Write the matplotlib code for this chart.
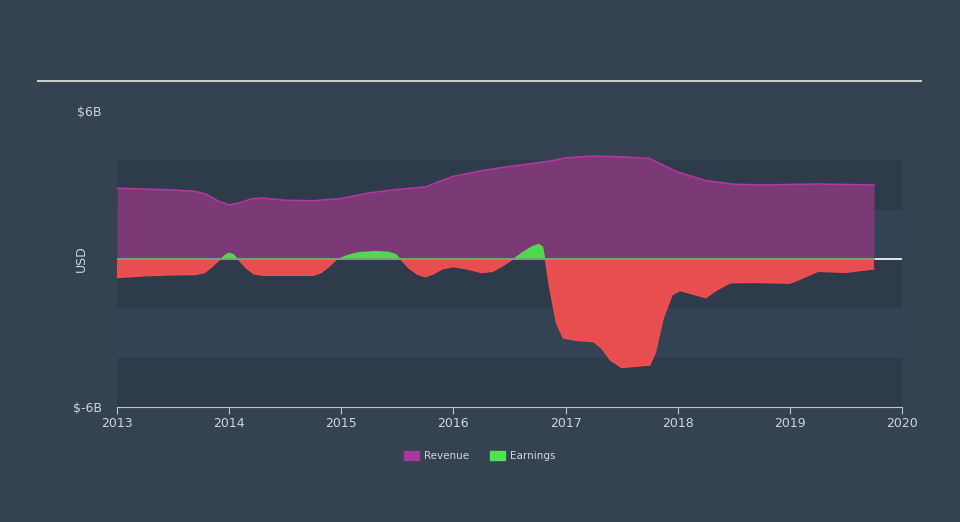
import matplotlib
matplotlib.use("Agg")
import matplotlib.pyplot as plt
from matplotlib.patches import Patch
import numpy as np

# Revenue (USD billions)
rev_t = [2013.0, 2013.5, 2013.7, 2013.8, 2013.9, 2014.0, 2014.1, 2014.2, 2014.3,
         2014.5, 2014.75, 2015.0, 2015.25, 2015.5, 2015.75, 2015.85, 2016.0,
         2016.25, 2016.5, 2016.75, 2016.9, 2017.0, 2017.25, 2017.5, 2017.75,
         2017.85, 2018.0, 2018.25, 2018.5, 2018.75, 2019.0, 2019.25, 2019.5,
         2019.75]
rev_v = [2.87, 2.80, 2.74, 2.62, 2.35, 2.19, 2.28, 2.44, 2.47,
         2.38, 2.36, 2.45, 2.68, 2.82, 2.92, 3.10, 3.35,
         3.58, 3.75, 3.90, 4.00, 4.10, 4.17, 4.14, 4.07,
         3.85, 3.52, 3.18, 3.03, 3.00, 3.02, 3.04, 3.02,
         3.00]

# Earnings (USD billions)
earn_t = [2013.0, 2013.25, 2013.5, 2013.7, 2013.78, 2013.85, 2013.92, 2013.97,
          2014.0, 2014.04, 2014.08, 2014.15, 2014.22, 2014.3, 2014.75, 2014.82,
          2014.89, 2014.96, 2015.05, 2015.15, 2015.3, 2015.42, 2015.49, 2015.53,
          2015.6, 2015.68, 2015.75, 2015.82, 2015.9, 2016.0, 2016.12, 2016.25,
          2016.35, 2016.43, 2016.53, 2016.62, 2016.7, 2016.76, 2016.8, 2016.82,
          2016.86, 2016.92, 2016.98, 2017.1, 2017.25, 2017.32, 2017.4, 2017.5,
          2017.75, 2017.8, 2017.87, 2017.95, 2018.02, 2018.12, 2018.25, 2018.35,
          2018.47, 2018.7, 2019.0, 2019.1, 2019.25, 2019.5, 2019.75]
earn_v = [-0.75, -0.68, -0.64, -0.63, -0.55, -0.3, 0.0, 0.2,
          0.26, 0.2, 0.0, -0.35, -0.6, -0.66, -0.66, -0.55,
          -0.3, 0.0, 0.16, 0.28, 0.33, 0.3, 0.2, 0.0,
          -0.35, -0.62, -0.72, -0.6, -0.4, -0.31, -0.4, -0.55,
          -0.5, -0.3, 0.0, 0.3, 0.52, 0.62, 0.5, 0.0,
          -1.2, -2.6, -3.2, -3.3, -3.35, -3.6, -4.1, -4.4,
          -4.3, -3.8, -2.4, -1.45, -1.28, -1.4, -1.57, -1.25,
          -0.96, -0.95, -0.98, -0.8, -0.5, -0.54, -0.4]

years = [2013, 2014, 2015, 2016, 2017, 2018, 2019, 2020]

bg = "#344252"
band_dark = "#2e3b4a"
band_light = "#344354"
text_col = "#d0d5da"

fig = plt.figure(figsize=(9.6, 5.22), dpi=100, facecolor=bg)
ax = fig.add_axes([117 / 960, 1 - 407 / 522, 785 / 960, 296 / 522])
ax.set_facecolor("none")

# background bands
for lo, hi, c in [(-6, -4, band_dark), (-4, -2, band_light), (-2, 0, band_dark),
                  (0, 2, band_light), (2, 4, band_dark)]:
    ax.axhspan(lo, hi, color=c, lw=0, zorder=0)

rt = np.array(rev_t)
rv = np.array(rev_v)
ax.fill_between(rt, 0, rv, color="#7b3975", lw=0, zorder=2)
ax.plot(rt, rv, color="#b0389e", lw=1.2, zorder=3)

et = np.array(earn_t)
ev = np.array(earn_v)
ax.fill_between(et, 0, ev, where=ev >= 0, interpolate=True, color="#50d850", lw=0, zorder=4)
ax.fill_between(et, 0, ev, where=ev <= 0, interpolate=True, color="#e84e50", lw=0, zorder=4)
ax.plot(et, np.minimum(ev, 0), color="#f05050", lw=1.0, zorder=4)

ax.axhline(0, color="white", lw=1.2, zorder=5)
ax.plot([2013, 2019.75], [0, 0], color="#5a9a5a", lw=1.2, zorder=6)

ax.set_xlim(2013, 2020)
ax.set_ylim(-6, 6)
ax.set_xticks(years)
ax.set_xticklabels([str(y) for y in years])
ax.set_yticks([-6, 6])
ax.set_yticklabels(["$-6B", "$6B"])
ax.tick_params(axis="x", colors="#c0c6cc", labelcolor=text_col, labelsize=9, length=5, pad=2)
ax.tick_params(axis="y", length=0, labelcolor=text_col, labelsize=9, pad=11)
for s in ["top", "right", "left"]:
    ax.spines[s].set_visible(False)
ax.spines["bottom"].set_color("#c0c6cc")
ax.set_ylabel("USD", color=text_col, fontsize=9)
ax.yaxis.set_label_coords(-0.037, 0.5)

# top rule
fig.add_artist(plt.Line2D([38 / 960, 921 / 960], [1 - 81 / 522, 1 - 81 / 522],
                          color="#c8ccd0", lw=1.5, transform=fig.transFigure))

handles = [Patch(color="#a8379a", label="Revenue"), Patch(color="#4ee24e", label="Earnings")]
fig.legend(handles=handles, loc="center", bbox_to_anchor=(0.5, 1 - 456 / 522), ncol=2,
           frameon=False, fontsize=7.5, labelcolor=text_col, handlelength=1.4,
           handleheight=1.0, columnspacing=2.0, handletextpad=0.5)

fig.savefig("out.png", dpi=100, facecolor=bg)
